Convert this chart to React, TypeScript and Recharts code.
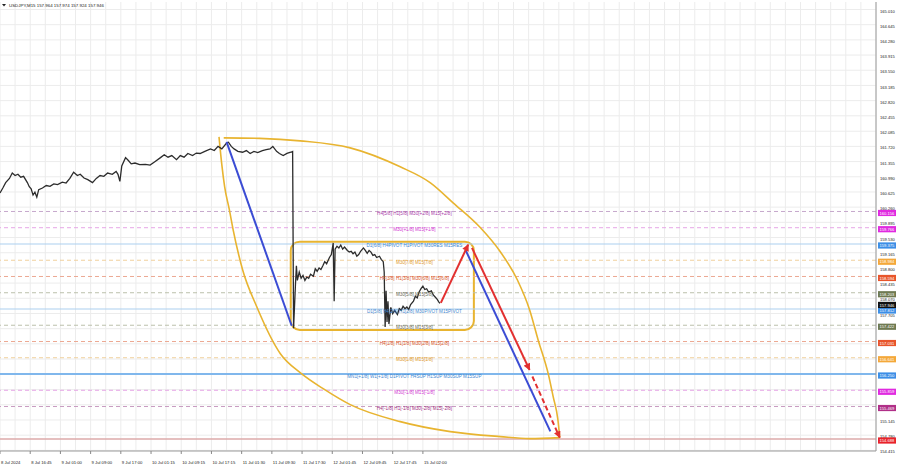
import { ComposedChart, Line, XAxis, YAxis, CartesianGrid, ReferenceLine, ReferenceArea, Scatter } from "recharts";

// time axis: M15 bar index, one label every 32 bars
const timeTicks = [0, 32, 64, 96, 128, 160, 192, 224, 256, 288, 320, 352, 384, 416, 448];
const timeLabels = [
  "8 Jul 2024", "8 Jul 16:45", "9 Jul 01:00", "9 Jul 09:00", "9 Jul 17:00", "10 Jul 01:15", "10 Jul 09:15",
  "10 Jul 17:15", "11 Jul 01:30", "11 Jul 09:30", "11 Jul 17:30", "12 Jul 01:45", "12 Jul 09:45", "12 Jul 17:45", "15 Jul 02:00",
];

const priceTicks = [
  165.01, 164.645, 164.28, 163.915, 163.55, 163.185, 162.82, 162.455, 162.085, 161.72, 161.355, 160.99, 160.625, 160.26,
  159.895, 159.53, 159.165, 158.8, 158.435, 158.07, 157.705, 157.34, 156.975, 156.61, 156.245, 155.875, 155.51, 155.145, 154.78, 154.415,
];
// tick labels that sit fully under a coloured level tag
const hiddenTicks = [157.34, 156.975, 156.61, 156.245, 155.875];

const levelValues = [160.156, 159.766, 159.375, 158.984, 158.594, 158.203, 157.812, 157.422, 157.031, 156.641, 156.25, 155.859, 155.469, 154.688];
const levelTexts = [
  "H4[5/8] H1[5/8] M30[+2/8] M15[+2/8]",
  "M30[+1/8] M15[+1/8]",
  "D1[6/8] H4PIVOT H1PIVOT M30RES M15RES",
  "M30[7/8] M15[7/8]",
  "H4[3/8] H1[3/8] M30[6/8] M15[6/8]",
  "M30[5/8] M15[5/8]",
  "D1[5/8] H4[2/8] H1[2/8] M30PIVOT M15PIVOT",
  "M30[3/8] M15[3/8]",
  "H4[1/8] H1[1/8] M30[2/8] M15[2/8]",
  "M30[1/8] M15[1/8]",
  "MN1[+1/8] W1[+1/8] D1PIVOT H4SUP H1SUP M30SUP M15SUP",
  "M30[-1/8] M15[-1/8]",
  "H4[-1/8] H1[-1/8] M30[-2/8] M15[-2/8]",
  "",
];
const labelBar = 439;
const lastPrice = 157.946;
const titleText = "USDJPY,M15  157.964 157.974 157.924 157.946";

// [bar, close]
const priceSeries: [number, number][] = [
  [0, 160.6], [3, 160.72], [6, 160.85], [10, 160.95], [13, 161.08], [16, 161.02], [19, 161.05], [22, 160.98], [25, 161.0],
  [29, 160.85], [31, 160.75], [33, 160.7], [35, 160.55], [37, 160.62], [39, 160.5], [41, 160.68], [45, 160.72], [49, 160.78],
  [53, 160.76], [57, 160.82], [61, 160.8], [66, 160.86], [70, 160.84], [74, 160.95], [78, 161.1], [82, 161.02], [85, 161.05],
  [89, 160.96], [93, 160.92], [98, 160.85], [102, 160.95], [106, 161.02], [110, 161.0], [114, 161.08], [119, 161.05],
  [123, 161.12], [125, 161.05], [127, 160.88], [129, 161.25], [133, 161.45], [136, 161.38], [139, 161.3], [143, 161.32],
  [148, 161.28], [154, 161.29], [159, 161.27], [164, 161.35], [170, 161.45], [174, 161.52], [178, 161.46], [182, 161.5],
  [187, 161.4], [191, 161.5], [195, 161.46], [199, 161.55], [204, 161.5], [208, 161.56], [212, 161.55], [217, 161.6],
  [223, 161.66], [227, 161.62], [231, 161.72], [235, 161.66], [240, 161.8], [242, 161.82], [245, 161.72], [248, 161.66],
  [252, 161.6], [257, 161.58], [261, 161.62], [265, 161.55], [269, 161.6], [273, 161.57], [278, 161.62], [282, 161.64],
  [286, 161.66], [289, 161.72], [293, 161.6], [296, 161.55], [300, 161.5], [304, 161.55], [308, 161.58], [310, 161.6],
  [311, 157.35], [313, 158.4], [314, 158.85], [315, 158.5], [317, 158.7], [319, 158.55], [321, 158.62], [323, 158.5],
  [325, 158.58], [327, 158.55], [329, 158.65], [332, 158.6], [334, 158.78], [336, 158.72], [338, 158.8], [340, 158.76],
  [342, 158.85], [344, 158.95], [346, 158.9], [349, 159.05], [351, 159.12], [353, 159.4], [354, 158.0], [355, 159.25],
  [357, 159.32], [359, 159.28], [361, 159.35], [363, 159.25], [365, 159.3], [368, 159.22], [370, 159.18], [372, 159.2],
  [374, 159.14], [376, 159.18], [378, 159.08], [380, 159.12], [382, 159.2], [385, 159.28], [387, 159.22], [389, 159.15],
  [391, 159.22], [393, 159.18], [395, 159.1], [397, 159.12], [399, 159.05], [402, 159.08], [404, 159.0], [406, 158.95],
  [407, 158.7], [408, 157.38], [409, 158.25], [410, 157.5], [411, 158.0], [412, 157.45], [414, 157.85], [416, 157.7],
  [418, 157.78], [421, 157.68], [423, 157.82], [425, 157.78], [427, 157.88], [429, 157.82], [431, 157.86], [433, 157.8],
  [435, 157.92], [438, 158.0], [440, 158.12], [442, 158.08], [444, 158.22], [446, 158.3], [448, 158.36], [450, 158.28],
  [452, 158.3], [454, 158.22], [457, 158.25], [459, 158.15], [461, 158.1], [463, 158.05], [465, 157.98], [466, 157.95],
];

// ellipse drawn as two arcs
const outerArc: [number, number][] = [
  [237, 161.925], [275, 161.913], [318, 161.853], [371, 161.685], [424, 161.229], [456, 160.844], [480, 160.364],
  [509, 159.764], [530, 159.188], [548, 158.515], [561, 157.795], [570, 157.075], [581, 156.235], [586, 155.706],
  [591, 155.154], [593, 154.722],
];
const innerArc: [number, number][] = [
  [232, 161.949], [235, 161.277], [238, 160.748], [243, 160.196], [247, 159.716], [257, 158.755], [272, 157.867],
  [297, 156.739], [318, 156.283], [344, 155.874], [371, 155.514], [424, 155.106], [477, 154.866], [530, 154.746],
  [561, 154.698], [593, 154.722],
];

const blueDrop: [number, number][] = [[240, 161.83], [309, 157.41]];
const blueTarget: [number, number][] = [[493, 159.24], [583, 154.87]];
const redUp: [number, number][] = [[467, 157.96], [496, 159.36]];
const redDown: [number, number][] = [[500, 159.28], [561, 156.35]];
const redDashed: [number, number][] = [[564, 156.19], [593, 154.72]];
const boxRange = { b1: 308, b2: 502, p1: 159.43, p2: 157.31 };

// styles for each level (same order as levelValues)
const levelLook = [
  { line: "#c6a8cc", dash: "4 3", w: 1, text: "#a83ca8", box: "#e02ae0" },
  { line: "#e6a6e6", dash: "4 3", w: 1, text: "#d23cd2", box: "#e02ae0" },
  { line: "#abcff0", dash: undefined, w: 1.2, text: "#3f88d0", box: "#3c8ee6" },
  { line: "#f0d09c", dash: "4 3", w: 1, text: "#e09a30", box: "#f4a83a" },
  { line: "#eca892", dash: "4 3", w: 1, text: "#d8582c", box: "#e8552b" },
  { line: "#bcc0ac", dash: "4 3", w: 1, text: "#6c6c5c", box: "#6f7a52" },
  { line: "#abcff0", dash: undefined, w: 1.2, text: "#3f88d0", box: "#3c8ee6" },
  { line: "#bcc0ac", dash: "4 3", w: 1, text: "#6c6c5c", box: "#6f7a52" },
  { line: "#eca892", dash: "4 3", w: 1, text: "#d8582c", box: "#e8552b" },
  { line: "#f0d09c", dash: "4 3", w: 1, text: "#e09a30", box: "#f4a83a" },
  { line: "#80b7ec", dash: undefined, w: 2, text: "#3f88d0", box: "#3c8ee6" },
  { line: "#e6a6e6", dash: "4 3", w: 1, text: "#d23cd2", box: "#e02ae0" },
  { line: "#c99cc2", dash: "4 3", w: 1, text: "#a0307f", box: "#b02f88" },
  { line: "#dcaaaa", dash: undefined, w: 1.5, text: "#d02020", box: "#e8222a" },
];

const FONT = "'Liberation Sans', Arial, sans-serif";
const toPts = (arr: [number, number][]) => arr.map(([b, p]) => ({ b, p }));
const verticalGrid = Array.from({ length: 59 }, (_, i) => i * 16);

const priceData = toPts(priceSeries);
const labelData = levelValues
  .map((v, i) => ({ b: labelBar, p: v, t: levelTexts[i], i }))
  .filter((d) => d.t !== "");
const yTicks = [...priceTicks.filter((t) => !hiddenTicks.includes(t)), ...levelValues, lastPrice];

function PriceTick(props: any) {
  const { x, y, payload } = props;
  const v = payload.value;
  const i = levelValues.indexOf(v);
  if (v === lastPrice || i >= 0) {
    const bg = v === lastPrice ? "#111111" : levelLook[i].box;
    return (
      <g>
        <rect x={x + 2} y={y - 1.6} width={18} height={6.2} fill={bg} />
        <text x={x + 3.5} y={y + 3.1} fontSize={4.1} fontFamily={FONT} fill="#ffffff">
          {v.toFixed(3)}
        </text>
      </g>
    );
  }
  return (
    <text x={x + 4} y={y + 3.1} fontSize={4.1} fontFamily={FONT} fill="#222">
      {v.toFixed(3)}
    </text>
  );
}

function TimeTick(props: any) {
  const { x, y, index } = props;
  return (
    <g>
      <line x1={x} y1={y} x2={x} y2={y + 3} stroke="#888" strokeWidth={1} />
      <text x={x + 1} y={y + 13} fontSize={4.2} fontFamily={FONT} fill="#222">
        {timeLabels[index]}
      </text>
    </g>
  );
}

function LevelText(props: any) {
  const { cx, cy, payload } = props;
  return (
    <text x={cx} y={cy + 3.5} textAnchor="middle" fontSize={4.6} fontFamily={FONT} fill={levelLook[payload.i].text}>
      {payload.t}
    </text>
  );
}

function RoundBox(props: any) {
  const { x, y, width, height } = props;
  return <rect x={x} y={y} width={width} height={height} rx={9} ry={9} fill="none" stroke="#e8b430" strokeWidth={2} />;
}

export default function App() {
  return (
    <div style={{ width: 900, height: 468, background: "#fff" }}>
      <style>{"body{margin:0}"}</style>
      <ComposedChart width={900} height={468} margin={{ top: 2, right: 0, bottom: 0, left: 0 }}>
        <defs>
          <marker id="arRed" viewBox="0 0 10 10" refX="9" refY="5" markerWidth="8" markerHeight="7" markerUnits="userSpaceOnUse" orient="auto">
            <path d="M0,0 L10,5 L0,10 z" fill="#e23030" />
          </marker>
        </defs>
        <CartesianGrid stroke="#ececec" horizontalValues={priceTicks} verticalValues={verticalGrid} />
        <XAxis
          dataKey="b"
          type="number"
          domain={[0, 928]}
          allowDataOverflow
          ticks={timeTicks}
          interval={0}
          height={17}
          tickSize={0}
          tickMargin={0}
          tickLine={false}
          axisLine={{ stroke: "#9a9a9a" }}
          tick={<TimeTick />}
        />
        <YAxis
          dataKey="p"
          orientation="right"
          type="number"
          domain={[154.4, 165.19]}
          allowDataOverflow
          ticks={yTicks}
          interval={0}
          width={24}
          tickSize={0}
          tickMargin={0}
          tickLine={false}
          axisLine={{ stroke: "#9a9a9a" }}
          tick={<PriceTick />}
        />
        {levelValues.map((v, i) => (
          <ReferenceLine
            key={v}
            y={v}
            stroke={levelLook[i].line}
            strokeWidth={levelLook[i].w}
            strokeDasharray={levelLook[i].dash}
          />
        ))}
        <ReferenceArea x1={boxRange.b1} x2={boxRange.b2} y1={boxRange.p1} y2={boxRange.p2} shape={<RoundBox />} />
        <Line data={toPts(outerArc)} dataKey="p" type="monotone" stroke="#e8b430" strokeWidth={1.6} dot={false} isAnimationActive={false} />
        <Line data={toPts(innerArc)} dataKey="p" type="monotone" stroke="#e8b430" strokeWidth={1.6} dot={false} isAnimationActive={false} />
        <Line data={priceData} dataKey="p" type="linear" stroke="#2c2c2c" strokeWidth={1.3} dot={false} isAnimationActive={false} />
        <Line data={toPts(blueDrop)} dataKey="p" type="linear" stroke="#3b4cd4" strokeWidth={2} dot={false} isAnimationActive={false} />
        <Line data={toPts(blueTarget)} dataKey="p" type="linear" stroke="#3b4cd4" strokeWidth={2} dot={false} isAnimationActive={false} />
        <Line data={toPts(redUp)} dataKey="p" type="linear" stroke="#e23030" strokeWidth={2} dot={false} markerEnd="url(#arRed)" isAnimationActive={false} />
        <Line data={toPts(redDown)} dataKey="p" type="linear" stroke="#e23030" strokeWidth={2} dot={false} markerEnd="url(#arRed)" isAnimationActive={false} />
        <Line data={toPts(redDashed)} dataKey="p" type="linear" stroke="#e23030" strokeWidth={2} strokeDasharray="5 3" dot={false} markerEnd="url(#arRed)" isAnimationActive={false} />
        <Scatter data={labelData} dataKey="p" shape={<LevelText />} isAnimationActive={false} />
        <path d="M2,4 L6,4 L4,6.5 z" fill="#222" />
        <text x={9} y={6.6} fontSize={4.4} fontFamily={FONT} fill="#222">
          {titleText}
        </text>
      </ComposedChart>
    </div>
  );
}
